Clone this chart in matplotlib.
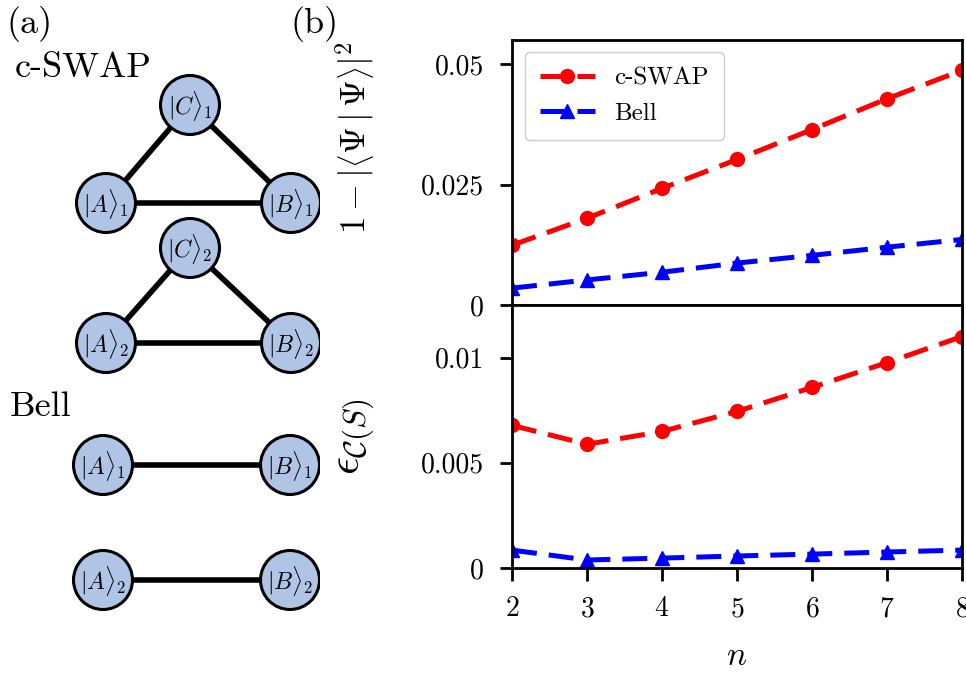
import matplotlib
matplotlib.use('Agg')
import matplotlib.pyplot as plt

plt.rcParams['font.family'] = 'serif'
plt.rcParams['font.serif'] = ['cmr10']
plt.rcParams['mathtext.fontset'] = 'cm'
plt.rcParams['axes.formatter.use_mathtext'] = True

# data
n = [2, 3, 4, 5, 6, 7, 8]
infid_cswap = [0.0124, 0.0180, 0.0242, 0.0302, 0.0364, 0.0428, 0.0487]
infid_bell = [0.0035, 0.0052, 0.0068, 0.0087, 0.0103, 0.0120, 0.0136]
err_cswap = [0.00678, 0.00588, 0.00649, 0.00744, 0.00858, 0.00976, 0.0110]
err_bell = [0.00085, 0.00038, 0.00047, 0.00057, 0.00066, 0.00076, 0.00085]

top_ticks = [0, 0.025, 0.05]
top_labels = ['0', '0.025', '0.05']
bot_ticks = [0, 0.005, 0.01]
bot_labels = ['0', '0.005', '0.01']

# diagram nodes (label, x, y) in pixel units of the left panel
nodes = [
    (r'$|C\rangle_1$', 190, 105), (r'$|A\rangle_1$', 106, 203), (r'$|B\rangle_1$', 291, 203),
    (r'$|C\rangle_2$', 190, 248), (r'$|A\rangle_2$', 106, 343), (r'$|B\rangle_2$', 291, 343),
    (r'$|A\rangle_1$', 103, 465), (r'$|B\rangle_1$', 290, 465),
    (r'$|A\rangle_2$', 103, 580), (r'$|B\rangle_2$', 290, 580),
]
edges = [(0, 1), (0, 2), (1, 2), (3, 4), (3, 5), (4, 5), (6, 7), (8, 9)]

fig = plt.figure(figsize=(9.66, 6.77), dpi=100)

# (a) diagram
axd = fig.add_axes([0, 0, 320 / 966, 1])
axd.set_xlim(0, 320)
axd.set_ylim(677, 0)
axd.axis('off')
for i, j in edges:
    axd.plot([nodes[i][1], nodes[j][1]], [nodes[i][2], nodes[j][2]],
             color='black', lw=4.0, zorder=1)
for lab, x, y in nodes:
    axd.add_patch(plt.Circle((x, y), 29.5, facecolor='#b0c4e6', edgecolor='black',
                             lw=2.2, zorder=2))
    axd.text(x, y + 1, lab, ha='center', va='center', fontsize=17, zorder=3)

fig.text(6 / 966, 1 - 24 / 677, '(a)', fontsize=26, va='center')
fig.text(15 / 966, 1 - 68 / 677, 'c-SWAP', fontsize=26, va='center')
fig.text(10 / 966, 1 - 407 / 677, 'Bell', fontsize=26, va='center')
fig.text(290 / 966, 1 - 24 / 677, '(b)', fontsize=26, va='center')

# (b) plots
left = 512 / 966
width = (962 - 512) / 966
ax1 = fig.add_axes([left, 1 - 305 / 677, width, (305 - 40) / 677])
ax2 = fig.add_axes([left, 1 - 568 / 677, width, (568 - 305) / 677], sharex=ax1)

style = dict(lw=3.6, ms=10, dashes=(5, 2.4))
ax1.plot(n, infid_cswap, 'o--', color='red', label='c-SWAP', **style)
ax1.plot(n, infid_bell, '^--', color='blue', label='Bell', **style)
ax2.plot(n, err_cswap, 'o--', color='red', **style)
ax2.plot(n, err_bell, '^--', color='blue', **style)

ax1.set_xlim(2, 8)
ax1.set_ylim(0, 0.055)
ax2.set_ylim(0, 0.0125)
ax1.set_yticks(top_ticks)
ax1.set_yticklabels(top_labels)
ax2.set_yticks(bot_ticks)
ax2.set_yticklabels(bot_labels)
ax2.set_xticks(n)
ax1.tick_params(labelbottom=False)

for ax in (ax1, ax2):
    for s in ax.spines.values():
        s.set_linewidth(2)
    ax.tick_params(direction='out', length=9, width=2, labelsize=20, pad=11)

ax1.set_ylabel(r'$1-\left|\left\langle\Psi\,|\,\Psi\right\rangle\right|^2$', fontsize=25)
ax1.yaxis.set_label_coords(-0.30, 0.63)
ax2.set_ylabel(r'$\epsilon_{\mathcal{C}(S)}$', fontsize=32)
ax2.yaxis.set_label_coords(-0.30, 0.5)
ax2.set_xlabel(r'$n$', fontsize=24, labelpad=14)

ax1.legend(loc='upper left', fontsize=18, handlelength=2.2, borderpad=0.6,
           edgecolor='#cccccc', framealpha=1)

fig.savefig('out.png', dpi=100)
